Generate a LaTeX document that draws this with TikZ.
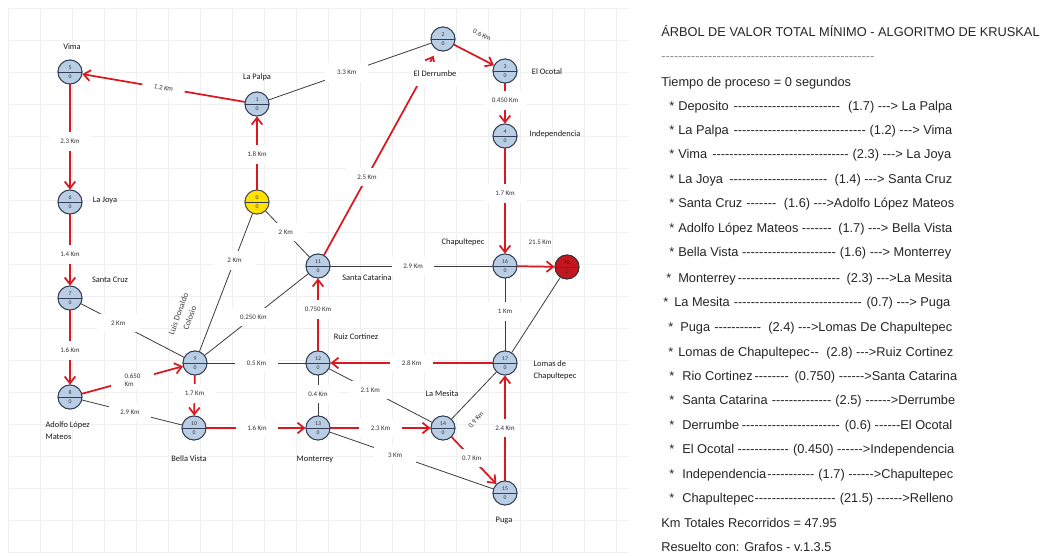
\documentclass[tikz,border=0pt]{standalone}
\usepackage{fontspec}
\usetikzlibrary{arrows.meta,calc}
\newfontfamily\arialf[Ligatures=TeXOff]{Liberation Sans}
\newfontfamily\carl{Carlito}
\definecolor{mstred}{RGB}{218,24,32}
\definecolor{nodeblue}{RGB}{185,205,229}
\definecolor{nodeedge}{RGB}{50,62,85}
\definecolor{depyellow}{RGB}{255,226,0}
\definecolor{relred}{RGB}{196,22,30}
\definecolor{edgegray}{RGB}{60,60,60}
\definecolor{gridc}{RGB}{240,240,240}
\newcommand\dfill[1]{\hbox to #1{\leaders\hbox{-}\hfill}}
\newcommand\gn[5]{%
  \node[gnode,#5] (#1) at (#2,#3) {};
  \node[num] (#1t) at ([yshift=3.3pt]#1.center) {#4};
  \node[num] (#1b) at ([yshift=-3.3pt]#1.center) {0};}
\newcommand\kl[7]{%
  \node[rt] (#1s) at (#3,#2+4.5) {*};
  \node[rt] (#1a) at (#4,#2+4.5) {\hbox to \dimexpr(#6pt-#4pt)*3/4\relax{#5\leaders\hbox{-}\hfill#7}};}
\begin{document}
\begin{tikzpicture}[x=0.75pt,y=-0.75pt,
  gnode/.style={circle, draw=nodeedge, line width=0.7pt, fill=nodeblue, minimum size=18pt, inner sep=0pt,
    path picture={\draw[nodeedge, line width=0.7pt] (path picture bounding box.west) -- (path picture bounding box.east);}},
  num/.style={font=\carl\fontsize{4.3}{5}\selectfont, inner sep=0pt, text=black!80},
  mst/.style={draw=mstred, line width=1.3pt, -{Straight Barb[length=5pt,width=8pt]}},
  oth/.style={draw=edgegray, line width=0.6pt},
  elab/.style={font=\carl\fontsize{5.2}{6.5}\selectfont, fill=white, inner sep=0pt, minimum width=32pt, minimum height=14pt, text=black!80},
  elabt/.style={font=\carl\fontsize{5.2}{6.5}\selectfont, inner sep=0.5pt, text=black!80},
  nlab/.style={font=\carl\fontsize{6.3}{9}\selectfont, inner sep=1pt, text=black!90},
  rt/.style={font=\arialf\fontsize{9.6}{11.5}\selectfont, anchor=base west, inner sep=0pt, text=black!85}]
\useasboundingbox (0,0) rectangle (1047,556);
\fill[white] (0,0) rectangle (1047,556);
% background grid
\foreach \gx in {8,40,...,630} \draw[gridc, line width=0.5pt] (\gx,8) -- (\gx,552);
\foreach \gy in {8,40,...,552} \draw[gridc, line width=0.5pt] (8,\gy) -- (628,\gy);
% nodes (for anchors)
\gn{n0}{257}{202}{0}{fill=depyellow, draw=black!70}
\gn{n1}{257}{104}{1}{}
\gn{n2}{443}{39}{2}{}
\gn{n3}{505}{71}{3}{}
\gn{n4}{505}{136}{4}{}
\gn{n5}{70}{72}{5}{}
\gn{n6}{70}{202}{6}{}
\gn{n7}{70}{298}{7}{}
\gn{n8}{70}{397}{8}{}
\gn{n9}{195}{363}{9}{}
\gn{n10}{194}{428}{10}{}
\gn{n11}{318}{266}{11}{}
\gn{n12}{318}{363}{12}{}
\gn{n13}{318}{428}{13}{}
\gn{n14}{443}{428}{14}{}
\gn{n15}{505}{493}{15}{}
\gn{n16}{505}{266}{16}{}
\gn{n17}{505}{363}{17}{}
\gn{n18}{567}{267}{18}{fill=relred, draw=black!80}
% other edges
\draw[oth] (n1) -- node[elab,pos=0.48]{3.3 Km} (n2);
\draw[oth] (n0) -- node[elab,pos=0.34]{2 Km} (n9);
\draw[oth] (n0) -- node[elab,pos=0.46]{2 Km} (n11);
\draw[oth] (n7) -- node[elab,pos=0.36]{2 Km} (n9);
\draw[oth] (n8) -- node[elab,pos=0.48]{2.9 Km} (n10);
\draw[oth] (n9) -- node[elab,pos=0.47]{0.250 Km} (n11);
\draw[oth] (n9) -- node[elab,pos=0.5]{0.5 Km} (n12);
\draw[oth] (n11) -- node[elab,pos=0.51]{2.9 Km} (n16);
\draw[oth] (n16) -- node[elab,pos=0.46]{1 Km} (n17);
\draw[oth] (n17) -- (n18);
\draw[oth] (n12) -- node[elab,pos=0.46]{0.4 Km} (n13);
\draw[oth] (n12) -- node[elab,pos=0.4]{2.1 Km} (n14);
\draw[oth] (n13) -- node[elab,pos=0.4]{3 Km} (n15);
\draw[oth] (n14) -- (n17);
% MST edges
\draw[mst] (n0) -- node[elab,pos=0.48]{1.8 Km} (n1);
\draw[mst] (n1) -- node[elab,pos=0.5,sloped]{1.2 Km} (n5);
\draw[mst] (n5) -- node[elab,pos=0.54]{2.3 Km} (n6);
\draw[mst] (n6) -- node[elab,pos=0.56]{1.4 Km} (n7);
\draw[mst] (n7) -- node[elab,pos=0.54]{1.6 Km} (n8);
\draw[mst] (n8) -- node[elab,pos=0.5,align=left]{0.650\\Km} (n9);
\draw[mst] (n9) -- node[elab,pos=0.45]{1.7 Km} (n10);
\draw[mst] (n10) -- node[elab,pos=0.51]{1.6 Km} (n13);
\draw[mst] (n13) -- node[elab,pos=0.5]{2.3 Km} (n14);
\draw[mst] (n14) -- node[elab,pos=0.45,minimum width=0pt,inner xsep=1pt]{0.7 Km} (n15);
\draw[mst] (n15) -- node[elab,pos=0.5,minimum width=0pt,inner xsep=1pt]{2.4 Km} (n17);
\draw[mst] (n17) -- node[elab,pos=0.5]{2.8 Km} (n12);
\draw[mst] (n12) -- node[elab,pos=0.57]{0.750 Km} (n11);
\draw[mst,shorten >=5pt] (n11) -- node[elab,pos=0.38]{2.5 Km} (n2);
\draw[mst] (n2) -- (n3);
\draw[mst] (n3) -- node[elab,pos=0.42]{0.450 Km} (n4);
\draw[mst] (n4) -- node[elab,pos=0.43]{1.7 Km} (n16);
\draw[mst] (n16) -- (n18);
\node[elabt, rotate=-27] (l06) at (482,35) {0.6 Km};
\node[elabt] (l215) at (540,242) {21.5 Km};
\node[elabt, rotate=50] (l09) at (476,420) {0.9 Km};
% nodes on top
\gn{m0}{257}{202}{0}{fill=depyellow, draw=black!70}
\gn{m1}{257}{104}{1}{}
\gn{m2}{443}{39}{2}{}
\gn{m3}{505}{71}{3}{}
\gn{m4}{505}{136}{4}{}
\gn{m5}{70}{72}{5}{}
\gn{m6}{70}{202}{6}{}
\gn{m7}{70}{298}{7}{}
\gn{m8}{70}{397}{8}{}
\gn{m9}{195}{363}{9}{}
\gn{m10}{194}{428}{10}{}
\gn{m11}{318}{266}{11}{}
\gn{m12}{318}{363}{12}{}
\gn{m13}{318}{428}{13}{}
\gn{m14}{443}{428}{14}{}
\gn{m15}{505}{493}{15}{}
\gn{m16}{505}{266}{16}{}
\gn{m17}{505}{363}{17}{}
\gn{m18}{567}{267}{\textcolor{relred!45!black}{18}}{fill=relred, draw=black!80}
% place names
\node[nlab] (lab5) at (72,47) {Vima};
\node[nlab] (lab1) at (257,77) {La Palpa};
\node[nlab, fill=white, minimum height=18pt] (lab2) at (435,74) {El Derrumbe};
\node[nlab] (lab3) at (547,72) {El Ocotal};
\node[nlab] (lab4) at (555,134) {Independencia};
\node[nlab] (lab6) at (105,200) {La Joya};
\node[nlab] (lab7) at (110,280) {Santa Cruz};
\node[nlab, text=black!75, rotate=70, align=center] (lab9) at (184,316) {Luis Donaldo\\Colosio};
\node[nlab] (lab11) at (367,278) {Santa Catarina};
\node[nlab] (lab16) at (463,242) {Chapultepec};
\node[nlab] (lab12) at (356,337) {Ruiz Cortinez};
\node[nlab, anchor=west, align=left] (lab17) at (532,370) {Lomas de\\Chapultepec};
\node[nlab, anchor=west, align=left] (lab8) at (44,431) {Adolfo López\\Mateos};
\node[nlab] (lab10) at (189,459) {Bella Vista};
\node[nlab] (lab13) at (315,459) {Monterrey};
\node[nlab] (lab14) at (442,394) {La Mesita};
\node[nlab] (lab15) at (504,521) {Puga};
% right text
\node[rt] (title) at (661,36.5) {ÁRBOL DE VALOR TOTAL MÍNIMO - ALGORITMO DE KRUSKAL};
\node[rt, text=black!45] (sep) at (661,61) {\dfill{160.5pt}};
\node[rt] (tiempo) at (661,86.5) {Tiempo de proceso = 0 segundos};
\kl{d1}{106}{669}{678}{Deposito~}{952}{~(1.7) ---> La Palpa}
\kl{d2}{130}{669}{678}{La Palpa~}{952}{~(1.2) ---> Vima}
\kl{d3}{154}{669}{678}{Vima~}{951}{~(2.3) ---> La Joya}
\kl{d4}{179}{669}{678}{La Joya~}{952}{~(1.4) ---> Santa Cruz}
\kl{d5}{203}{669}{678}{Santa Cruz~}{954}{~(1.6) --->Adolfo López Mateos}
\kl{d6}{228}{669}{678}{Adolfo López Mateos}{952}{~(1.7) ---> Bella Vista}
\kl{d7}{252}{669}{678}{Bella Vista~}{951}{~(1.6) ---> Monterrey}
\kl{d8}{278}{666}{678}{Monterrey}{952}{~(2.3) --->La Mesita}
\kl{d9}{302}{663}{674}{La Mesita}{950}{~(0.7) ---> Puga}
\kl{d10}{327}{668}{680}{Puga}{952}{~(2.4) --->Lomas De Chapultepec}
\kl{d11}{352}{668}{678}{Lomas de Chapultepec}{953}{~(2.8) --->Ruiz Cortinez}
\kl{d12}{376}{669}{682}{Rio Cortinez}{957}{~(0.750) ------>Santa Catarina}
\kl{d13}{400}{669}{682}{Santa Catarina}{955}{~(2.5) ------>Derrumbe}
\kl{d14}{425}{669}{682}{Derrumbe}{952}{~(0.6) ------El Ocotal}
\kl{d15}{449}{669}{682}{El Ocotal}{954}{~(0.450) ------>Independencia}
\kl{d16}{474}{669}{682}{Independencia}{953}{(1.7) ------>Chapultepec}
\kl{d17}{498}{669}{682}{Chapultepec}{953}{~(21.5) ------>Relleno}
\node[rt] (total) at (661,527.5) {Km Totales Recorridos = 47.95};
\node[rt] (res) at (661,551.5) {Resuelto con: Grafos - v.1.3.5};
\end{tikzpicture}
\end{document}
